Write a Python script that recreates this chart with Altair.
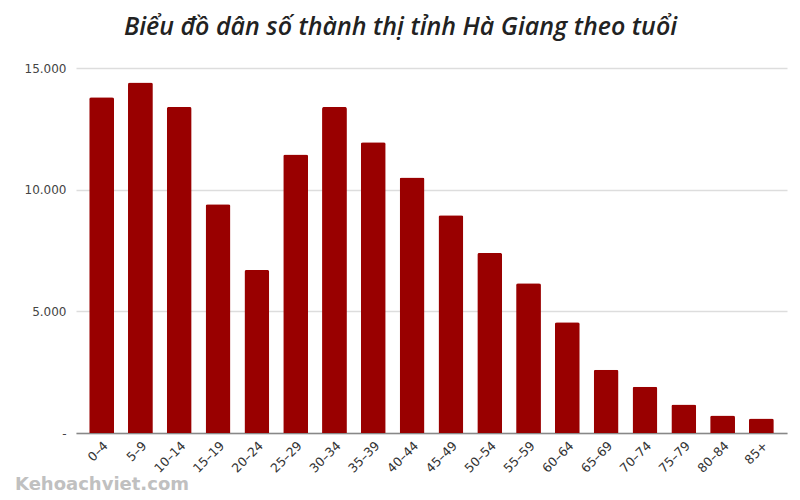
import altair as alt
import pandas as pd

age_groups = ["0–4", "5–9", "10–14", "15–19", "20–24", "25–29", "30–34", "35–39",
              "40–44", "45–49", "50–54", "55–59", "60–64", "65–69", "70–74", "75–79",
              "80–84", "85+"]
population = [13800, 14400, 13400, 9400, 6700, 11450, 13400, 11950,
              10500, 8950, 7400, 6150, 4550, 2600, 1900, 1170, 720, 600]
y_ticks = [0, 5000, 10000, 15000]
title_text = "Biểu đồ dân số thành thị tỉnh Hà Giang theo tuổi"
watermark = "Kehoachviet.com"

df = pd.DataFrame({"age": age_groups, "pop": population})

bars = alt.Chart(df).mark_bar(color="#990000", cornerRadiusTopLeft=2, cornerRadiusTopRight=2).encode(
    x=alt.X("age:N", sort=age_groups, title=None,
            scale=alt.Scale(paddingInner=0.36, paddingOuter=0.34),
            axis=alt.Axis(labelAngle=-45, labelFont="DejaVu Sans", labelFontSize=12.5,
                          labelColor="#333", ticks=False, domainColor="#888",
                          domainWidth=1.5, labelPadding=6, grid=False)),
    y=alt.Y("pop:Q", title=None,
            scale=alt.Scale(domain=[0, 15000], nice=False),
            axis=alt.Axis(values=y_ticks, domain=False, ticks=False,
                          labelFont="DejaVu Sans", labelFontSize=12, labelColor="#444",
                          labelPadding=10, gridColor="#dddddd", gridWidth=1.5,
                          labelExpr="datum.value == 0 ? '-' : replace(format(datum.value, ','), ',', '.')"))
)

wm = alt.Chart(pd.DataFrame({"t": [watermark]})).mark_text(
    font="DejaVu Sans", fontSize=18, fontWeight="bold", color="#c0c0c0", align="left", baseline="middle"
).encode(text="t:N", x=alt.value(-61), y=alt.value(417))

chart = alt.layer(bars, wm).properties(
    width=711, height=365,
    title=alt.TitleParams(title_text, font="Open Sans", fontSize=25, fontStyle="italic",
                          fontWeight=600, color="#222", anchor="middle", dx=-31, offset=22),
    autosize=alt.AutoSizeParams(type="none"),
    padding={"left": 68, "top": 60, "right": 5, "bottom": 70},
    background="white",
).configure_view(strokeWidth=0)

chart.save("out.html", embed_options={"renderer": "svg", "actions": False})
